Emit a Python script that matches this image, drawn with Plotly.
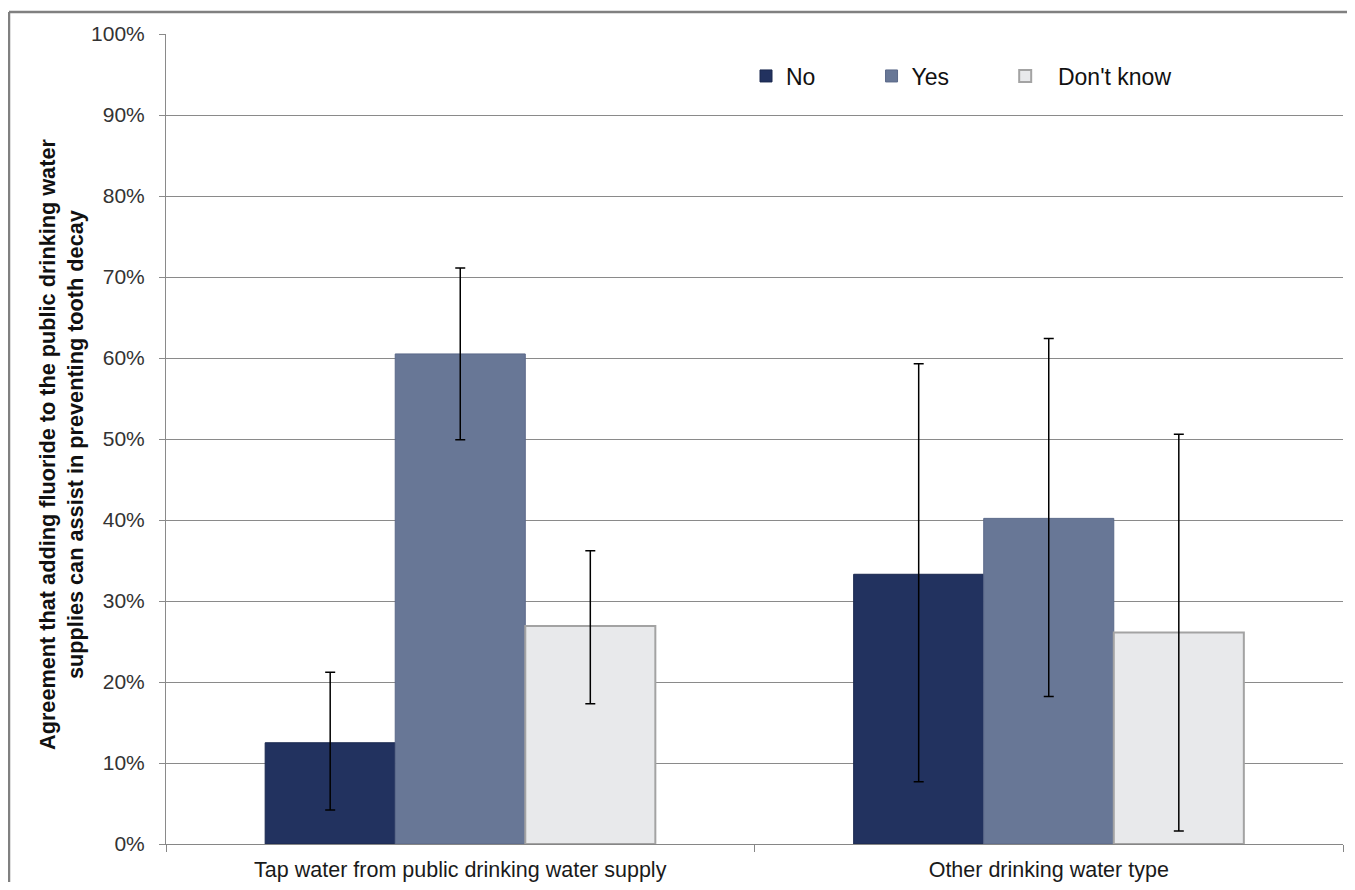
import plotly.graph_objects as go

categories = ["Tap water from public drinking water supply", "Other drinking water type"]
series_names = ["No", "Yes", "Don't know"]
no_vals = [12.5, 33.3]
yes_vals = [60.5, 40.2]
dk_vals = [26.9, 26.1]
no_low = [4.2, 7.7]
no_high = [21.2, 59.3]
yes_low = [49.9, 18.2]
yes_high = [71.1, 62.4]
dk_low = [17.3, 1.6]
dk_high = [36.2, 50.6]
y_ticks = [0, 10, 20, 30, 40, 50, 60, 70, 80, 90, 100]
y_ticklabels = [f"{v}%" for v in y_ticks]

FONT = "Arial, Liberation Sans, sans-serif"
fill_colors = ["#22325F", "#687796", "#E8E9EB"]
line_colors = ["#1A284F", "#5B6989", "#A3A3A3"]
line_widths = [1, 1, 2]
NB = "\u00a0"
legend_labels = ["No" + NB * 8, "Yes" + NB * 8, NB * 2 + "Don't know"]

vals = [no_vals, yes_vals, dk_vals]
lows = [no_low, yes_low, dk_low]
highs = [no_high, yes_high, dk_high]

fig = go.Figure()
for name, lab, v, lo, hi, fc, lc, lw in zip(series_names, legend_labels, vals, lows, highs,
                                             fill_colors, line_colors, line_widths):
    fig.add_trace(go.Bar(
        name=lab,
        x=categories,
        y=v,
        hovertemplate=name + ": %{y:.1f}%<extra></extra>",
        marker=dict(color=fc, line=dict(color=lc, width=lw)),
        error_y=dict(
            type="data",
            symmetric=False,
            array=[h - b for h, b in zip(hi, v)],
            arrayminus=[b - l for l, b in zip(lo, v)],
            color="#000000",
            thickness=1.5,
            width=5,
        ),
    ))

# page has an 8px body margin: work in page coordinates and convert
OFF = 8
W, H = 1339, 874
L = 166 - OFF
T = 34 - OFF
R = W - (1343 - OFF)
B = H - (844 - OFF)
pw = W - L - R
ph = H - T - B

def px_x(p):
    return (p - OFF - L) / pw

def px_y(p):
    return (H - B - (p - OFF)) / ph

fig.update_layout(
    width=W, height=H,
    margin=dict(l=L, r=R, t=T, b=B, autoexpand=False),
    paper_bgcolor="white",
    plot_bgcolor="white",
    barmode="group",
    bargap=0.337,
    bargroupgap=0,
    font=dict(family=FONT, color="#1a1a1a"),
    legend=dict(
        orientation="h",
        x=px_x(746), xanchor="left",
        y=px_y(76), yanchor="middle",
        font=dict(size=23, family=FONT, color="#111111"),
        bgcolor="rgba(0,0,0,0)",
        traceorder="normal",
    ),
    xaxis=dict(
        type="category",
        showgrid=False,
        showline=True, linecolor="#868686", linewidth=1,
        ticks="outside", ticklen=7, tickcolor="#868686",
        tickson="boundaries",
        ticklabelstandoff=6,
        tickfont=dict(size=21.5, family=FONT, color="#1a1a1a"),
        zeroline=False,
    ),
    yaxis=dict(
        range=[0, 100],
        tickvals=y_ticks,
        ticktext=y_ticklabels,
        showgrid=True, gridcolor="#8a8a8a", gridwidth=1,
        showline=True, linecolor="#8a8a8a", linewidth=1,
        ticks="outside", ticklen=6, tickcolor="#8a8a8a",
        ticklabelstandoff=10,
        tickfont=dict(size=21, family=FONT, color="#333333"),
        zeroline=False,
    ),
    showlegend=True,
)

fig.add_annotation(
    xref="paper", yref="paper",
    x=px_x(61), y=px_y(445),
    text="<b>Agreement that adding fluoride to the public drinking water<br>supplies can assist in preventing tooth decay</b>",
    textangle=-90,
    showarrow=False,
    font=dict(size=21.7, family=FONT, color="#111111"),
    xanchor="center", yanchor="middle",
)

# outer frame (top and left edges visible)
fig.add_shape(type="line", xref="paper", yref="paper",
              x0=px_x(9), x1=px_x(1360), y0=px_y(12), y1=px_y(12),
              line=dict(color="#808080", width=2.5))
fig.add_shape(type="line", xref="paper", yref="paper",
              x0=px_x(9), x1=px_x(9), y0=px_y(12), y1=px_y(895),
              line=dict(color="#808080", width=2.5))

fig.write_html("out.html")
